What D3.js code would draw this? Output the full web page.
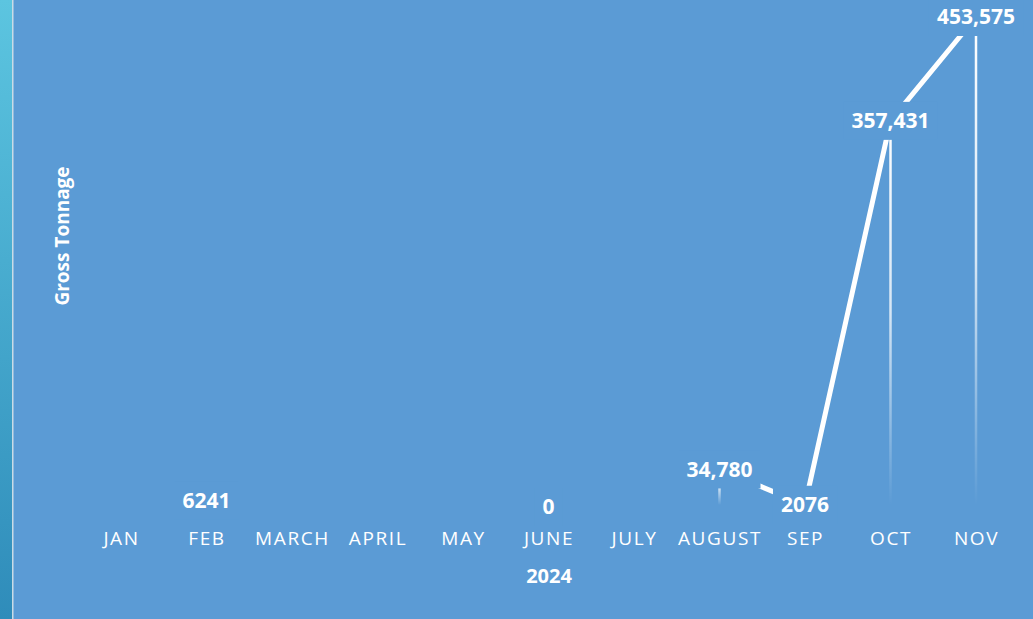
<!DOCTYPE html>
<html lang="en">
<head>
<meta charset="utf-8">
<title>Gross Tonnage 2024</title>
<script src="https://cdn.jsdelivr.net/npm/d3@7"></script>
<style>
  html, body { margin: 0; padding: 0; background: #5b9bd5; }
  svg { display: block; font-family: "Open Sans", "Noto Sans", sans-serif; }
</style>
</head>
<body>
<script>
// data (null = no value that month)
var months = ["JAN", "FEB", "MARCH", "APRIL", "MAY", "JUNE", "JULY", "AUGUST", "SEP", "OCT", "NOV"];
var tonnage = [null, 6241, null, null, null, 0, null, 34780, 2076, 357431, 453575];
var labels = [null, "6241", null, null, null, "0", null, "34,780", "2076", "357,431", "453,575"];
var yearLabel = "2024";
var yTitle = "Gross Tonnage";

var w = 1033, h = 619;
var bg = "#5b9bd5";

var svg = d3.select("body").append("svg")
    .attr("width", w)
    .attr("height", h);

var defs = svg.append("defs");

// left accent strip
var strip = defs.append("linearGradient")
    .attr("id", "strip").attr("x1", 0).attr("y1", 0).attr("x2", 0).attr("y2", 1);
strip.append("stop").attr("offset", "0%").attr("stop-color", "#5cc5e0");
strip.append("stop").attr("offset", "100%").attr("stop-color", "#2f8cba");

svg.append("rect").attr("width", w).attr("height", h).attr("fill", bg);
svg.append("rect").attr("width", 12).attr("height", h).attr("fill", "url(#strip)");
svg.append("rect").attr("x", 12).attr("width", 1.5).attr("height", h).attr("fill", "#c9dbe6");

var data = months.map(function(m, i) {
    return { month: m, value: tonnage[i], label: labels[i] };
});

var x = d3.scalePoint()
    .domain(months)
    .range([121, 976]);

var y = d3.scaleLinear()
    .domain([0, 453575])
    .range([507, 17]);

var pts = data.filter(function(d) { return d.value !== null; });

// drop lines, each fading out towards the base
var g = defs.append("linearGradient")
    .attr("id", "drop").attr("x1", 0).attr("x2", 0).attr("y1", 0).attr("y2", 1);
g.append("stop").attr("offset", "0%").attr("stop-color", "#fff").attr("stop-opacity", 1);
g.append("stop").attr("offset", "50%").attr("stop-color", "#fff").attr("stop-opacity", 0.75);
g.append("stop").attr("offset", "100%").attr("stop-color", "#fff").attr("stop-opacity", 0);

var dropEnd = y(0) - 2;
svg.append("g").selectAll("rect")
    .data(pts.filter(function(d) { return dropEnd - y(d.value) > 4; }))
    .enter()
    .append("rect")
    .attr("x", function(d) { return x(d.month) - 1.25; })
    .attr("width", 2.5)
    .attr("y", function(d) { return y(d.value); })
    .attr("height", function(d) { return dropEnd - y(d.value); })
    .attr("fill", "url(#drop)");

// the line itself
var line = d3.line()
    .defined(function(d) { return d.value !== null; })
    .x(function(d) { return x(d.month); })
    .y(function(d) { return y(d.value); });

svg.append("path")
    .datum(data)
    .attr("d", line)
    .attr("fill", "none")
    .attr("stroke", "#fff")
    .attr("stroke-width", 5);

// data labels centred on the points, with a patch of background that cuts the line
var lab = svg.append("g").selectAll("g")
    .data(pts)
    .enter()
    .append("g")
    .attr("transform", function(d) {
        return "translate(" + x(d.month) + "," + y(d.value) + ")";
    });

lab.append("text")
    .attr("text-anchor", "middle")
    .attr("dy", "0.35em")
    .attr("fill", "#fff")
    .attr("font-size", "21px")
    .attr("font-weight", "bold")
    .text(function(d) { return d.label; })
    .each(function() {
        var b = this.getBBox();
        d3.select(this.parentNode).insert("rect", "text")
            .attr("x", b.x - 8).attr("y", -19)
            .attr("width", b.width + 16).attr("height", 38)
            .attr("fill", bg);
    });

// x axis
var xAxis = d3.axisBottom(x).tickSize(0).tickPadding(0);
var gx = svg.append("g")
    .attr("transform", "translate(0,538)")
    .call(xAxis);
gx.select(".domain").remove();
gx.selectAll("text")
    .attr("dy", "0.35em")
    .attr("fill", "#fff")
    .attr("font-size", "19px")
    .attr("font-family", "Open Sans, sans-serif")
    .attr("letter-spacing", "1.6px");

svg.append("text")
    .attr("x", 549).attr("y", 576)
    .attr("dy", "0.35em")
    .attr("text-anchor", "middle")
    .attr("fill", "#fff")
    .attr("font-size", "20px")
    .attr("font-weight", "bold")
    .text(yearLabel);

svg.append("text")
    .attr("transform", "translate(62,236) rotate(-90)")
    .attr("dy", "0.35em")
    .attr("text-anchor", "middle")
    .attr("fill", "#fff")
    .attr("font-size", "19px")
    .attr("font-weight", "bold")
    .text(yTitle);
</script>
</body>
</html>
